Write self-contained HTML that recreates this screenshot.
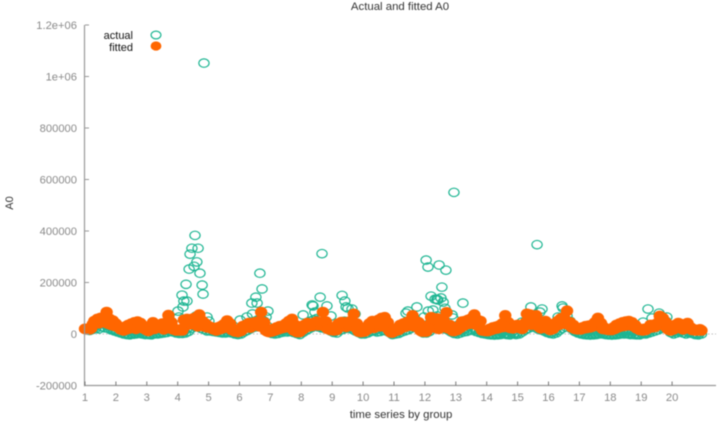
<!DOCTYPE html>
<html>
<head>
<meta charset="utf-8">
<title>Actual and fitted A0</title>
<style>
html,body{margin:0;padding:0;background:#fff;width:719px;height:422px;overflow:hidden}
svg{display:block;filter:blur(0.5px)}
text{font-family:"Liberation Sans",sans-serif}
</style>
</head>
<body>
<svg id="chart" width="719" height="422" viewBox="0 0 719 422" xmlns="http://www.w3.org/2000/svg">
  <rect x="0" y="0" width="719" height="422" fill="#fff"/>
  <text x="400" y="10" text-anchor="middle" font-size="11.4" fill="#333">Actual and fitted A0</text>
  <text transform="translate(13,203) rotate(-90)" text-anchor="middle" font-size="11" fill="#333">A0</text>
  <text x="401" y="418" text-anchor="middle" font-size="11.4" fill="#333">time series by group</text>
  <line x1="85" y1="334" x2="716" y2="334" stroke="#bbb" stroke-width="1" stroke-dasharray="1.5 2"/>
  <g id="actual-layer" fill="none" stroke="#1db592" stroke-width="1.2"></g>
  <g id="fitted-layer" fill="#ff6600"></g>
  <g id="axes"></g>
  <g>
    <text x="133" y="39" text-anchor="end" font-size="11" fill="#111">actual</text>
    <ellipse cx="156" cy="35" rx="4.9" ry="3.9" fill="none" stroke="#1db592" stroke-width="1.2"/>
    <text x="133" y="51" text-anchor="end" font-size="11" fill="#111">fitted</text>
    <ellipse cx="156" cy="46" rx="5.4" ry="4.6" fill="#ff6600"/>
  </g>
</svg>
<script>
const yTickValues = [-200, 0, 200, 400, 600, 800, 1000, 1200];
const yTickLabels = ["-200000", "0", "200000", "400000", "600000", "800000", "1e+06", "1.2e+06"];
const xTickValues = [1, 2, 3, 4, 5, 6, 7, 8, 9, 10, 11, 12, 13, 14, 15, 16, 17, 18, 19, 20];
const xTickLabels = ["1", "2", "3", "4", "5", "6", "7", "8", "9", "10", "11", "12", "13", "14", "15", "16", "17", "18", "19", "20"];

/* values in thousands, ten readings per group starting at time 1.0 */
const fittedValues = [
  20,20,22,50,58,62,60,85,58,52,
  40,28,20,28,35,40,45,48,42,30,
  15,22,45,25,35,40,42,73,45,20,
  15,18,55,58,55,60,65,75,50,40,
  30,25,22,25,30,38,52,40,20,10,
  15,30,35,42,42,45,48,85,45,10,
  15,20,25,30,32,40,50,58,35,8,
  20,35,42,40,42,48,45,85,48,25,
  22,18,40,46,45,42,50,78,40,8,
  12,25,40,50,45,55,62,65,45,6,
  15,22,35,40,45,50,72,50,45,10,
  10,22,65,60,60,30,55,84,35,12,
  18,30,48,50,55,60,75,55,50,14,
  12,20,25,28,32,40,72,45,35,28,
  35,30,30,78,75,55,72,27,45,50,
  25,18,40,50,60,65,90,45,35,20,
  22,25,30,32,35,45,62,42,25,18,
  18,25,35,40,45,48,50,45,35,22,
  18,20,22,35,35,40,70,62,45,16,
  20,35,42,38,20,42,25,18,15,18
];
/* lower scatter of fitted readings, offset half a step in time */
const fittedLowerValues = [
  18,18,38,45,42,48,45,40,35,32,
  28,18,14,18,22,26,20,28,24,18,
  12,18,20,30,24,18,32,22,18,14,
  14,14,32,42,38,44,30,38,30,26,
  24,18,14,18,22,30,26,16,10,8,
  12,22,28,25,32,34,30,28,14,8,
  10,14,18,22,25,30,24,14,8,8,
  18,26,30,32,36,34,38,30,20,16,
  14,16,30,32,28,34,32,26,10,8,
  10,18,28,24,36,30,34,26,12,6,
  12,16,24,28,32,36,30,28,14,10,
  10,36,42,24,20,38,34,22,18,12,
  16,24,32,38,40,42,36,30,14,12,
  12,16,20,22,26,28,30,24,22,26,
  24,20,44,48,36,40,32,22,30,22,
  16,20,32,36,44,40,36,26,20,18,
  18,22,24,26,30,34,30,20,18,16,
  16,20,26,30,32,34,36,30,22,16,
  14,16,24,26,28,36,40,32,20,14,
  18,28,30,18,26,22,16,14,14,14
];
const actualBaseValues = [
  18,20,25,30,35,40,38,35,30,20,
  15,10,5,2,0,2,3,4,5,3,
  2,0,2,3,5,8,15,20,25,10,
  8,5,10,20,50,60,70,40,30,25,
  25,20,15,12,10,8,10,12,5,3,
  5,20,30,40,45,50,55,60,50,30,
  8,5,8,12,15,18,20,15,8,2,
  15,30,45,50,55,60,55,45,40,30,
  15,10,30,40,50,45,40,30,15,5,
  5,10,20,30,15,20,25,30,15,3,
  5,8,15,25,35,50,60,55,40,10,
  10,20,50,60,70,60,50,40,20,8,
  5,10,15,20,30,40,20,15,10,5,
  3,0,-2,0,2,5,3,2,5,3,
  5,20,35,50,60,55,50,40,30,15,
  8,5,10,30,50,60,70,50,25,10,
  5,2,0,-2,0,2,3,5,2,0,
  -2,0,2,3,5,5,3,3,2,0,
  5,5,8,15,25,35,45,55,50,15,
  5,10,15,12,5,10,8,3,2,5
];
/* denser low readings of the actual series, offset half a step in time */
const actualLowerValues = [
  16,14,18,22,20,28,24,22,16,12,
  8,4,0,-2,-3,-1,0,2,0,-2,
  -2,-3,0,0,2,4,6,10,8,4,
  2,2,4,10,22,30,34,22,18,12,
  12,10,8,6,4,4,6,4,0,-2,
  0,8,14,20,26,28,30,28,20,10,
  2,0,2,6,8,8,10,6,2,-2,
  6,14,20,26,30,28,24,22,18,12,
  6,4,14,18,22,22,18,12,6,0,
  0,4,10,12,8,10,14,12,6,-2,
  0,2,8,12,16,22,26,24,14,4,
  4,10,22,26,30,26,20,16,8,2,
  0,4,8,10,14,16,10,6,2,0,
  -2,-3,-4,-3,-2,0,-2,-3,0,-2,
  0,8,16,22,28,26,20,16,12,6,
  2,0,4,14,22,28,32,20,10,4,
  0,-2,-3,-4,-3,-2,0,0,-2,-3,
  -4,-3,-2,0,0,0,-2,-2,-3,-3,
  0,0,4,8,12,16,22,24,20,6,
  0,4,8,4,0,4,2,-2,-3,0
];
const actualPeakTimes = [
  4.56,4.66,4.46,4.40,4.62,4.53,4.37,4.72,4.27,4.79,4.82,4.14,4.30,4.20,4.17,4.01,4.04,4.95,5.01,4.85,
  6.66,6.73,6.53,6.40,6.57,6.92,6.42,6.02,6.24,6.86,
  8.67,8.61,8.35,8.38,8.83,8.44,8.06,8.96,9.32,9.41,9.45,9.51,9.64,9.74,
  12.04,12.10,12.46,12.68,12.55,12.20,12.39,12.33,12.42,12.52,12.59,13.23,11.74,11.45,11.39,12.11,12.26,11.97,12.65,12.88,12.91,12.94,
  15.63,15.43,15.79,15.72,16.44,16.47,16.31,15.14,
  19.22,19.58,19.35,19.06,19.83
];
const actualPeakValues = [
  383,333,333,310,280,263,252,236,193,190,155,151,128,128,105,89,66,66,50,1052,
  236,175,143,120,120,89,78,54,66,66,
  312,143,113,109,109,85,74,70,150,128,105,100,97,78,
  287,260,268,248,182,147,135,135,132,140,124,120,105,89,81,89,93,66,100,74,62,550,
  347,105,97,85,109,101,66,46,
  97,81,62,46,66
];

function xScale(t) { return 85 + (t - 1) * 30.9; }
function yScale(k) { return 334 - k * 51.5 / 200; }

const NS = "http://www.w3.org/2000/svg";
function make(tag, parent) {
  const el = document.createElementNS(NS, tag);
  parent.appendChild(el);
  return el;
}

const axes = document.getElementById("axes");
const yAxisLine = make("line", axes);


yAxisLine.setAttribute("x1", 84.5); yAxisLine.setAttribute("x2", 84.5);
yAxisLine.setAttribute("y1", yScale(1200)); yAxisLine.setAttribute("y2", yScale(-200) + 0.7);
yAxisLine.setAttribute("stroke", "#999"); yAxisLine.setAttribute("stroke-width", "1.2");
const xAxisLine = make("line", axes);


xAxisLine.setAttribute("x1", 84); xAxisLine.setAttribute("x2", 716);
xAxisLine.setAttribute("y1", yScale(-200)); xAxisLine.setAttribute("y2", yScale(-200));
xAxisLine.setAttribute("stroke", "#999"); xAxisLine.setAttribute("stroke-width", "1.3");

yTickValues.forEach(function (v, i) {
  const tick = make("line", axes);
  
  
  tick.setAttribute("x1", 85); tick.setAttribute("x2", 89);
  tick.setAttribute("y1", yScale(v)); tick.setAttribute("y2", yScale(v));
  tick.setAttribute("stroke", "#999"); tick.setAttribute("stroke-width", "1");
  const label = make("text", axes);
  
  
  label.setAttribute("x", 77); label.setAttribute("y", yScale(v) + 4);
  label.setAttribute("text-anchor", "end"); label.setAttribute("font-size", "11.2");
  label.setAttribute("fill", "#8a8a8a");
  label.textContent = yTickLabels[i];
});
xTickValues.forEach(function (v, i) {
  const tick = make("line", axes);
  
  
  tick.setAttribute("x1", xScale(v)); tick.setAttribute("x2", xScale(v));
  tick.setAttribute("y1", yScale(-200)); tick.setAttribute("y2", yScale(-200) - 4);
  tick.setAttribute("stroke", "#777"); tick.setAttribute("stroke-width", "1");
  const label = make("text", axes);
  
  
  label.setAttribute("x", xScale(v)); label.setAttribute("y", 401);
  label.setAttribute("text-anchor", "middle"); label.setAttribute("font-size", "11.2");
  label.setAttribute("fill", "#8a8a8a");
  label.textContent = xTickLabels[i];
});

const actualLayer = document.getElementById("actual-layer");
function addActual(t, k) {
  const p = make("ellipse", actualLayer);
  
  
  p.setAttribute("cx", xScale(t)); p.setAttribute("cy", yScale(k));
  p.setAttribute("rx", 5.1); p.setAttribute("ry", 4.2);
}
actualBaseValues.forEach(function (k, i) { addActual(1 + i * 0.1, k); });
actualLowerValues.forEach(function (k, i) { addActual(1.05 + i * 0.1, k); });
actualPeakValues.forEach(function (k, i) { addActual(actualPeakTimes[i], k); });

const fittedLayer = document.getElementById("fitted-layer");
function addFitted(t, k) {
  const p = make("ellipse", fittedLayer);
  
  
  p.setAttribute("cx", xScale(t)); p.setAttribute("cy", yScale(k));
  p.setAttribute("rx", 6.2); p.setAttribute("ry", 5.4);
}
fittedLowerValues.forEach(function (k, i) { addFitted(1.05 + i * 0.1, k); });
fittedValues.forEach(function (k, i) { addFitted(1 + i * 0.1, k); });
</script>
</body>
</html>
